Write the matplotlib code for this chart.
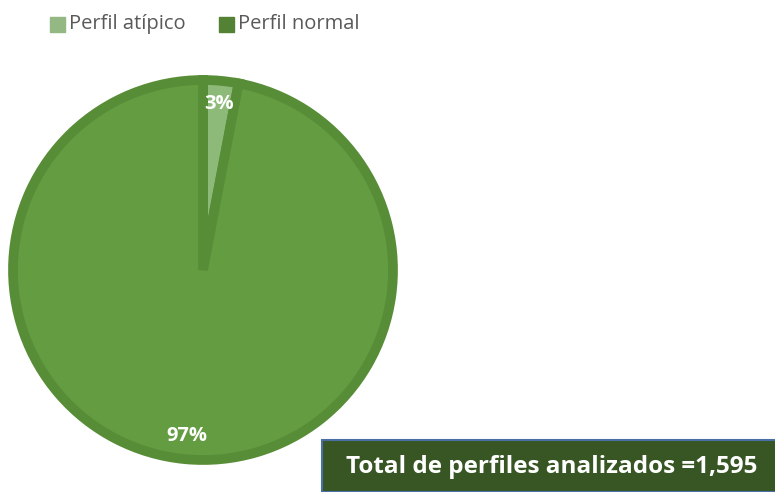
import matplotlib.pyplot as plt
from matplotlib.patches import Rectangle

# data
categories = ['Perfil atípico', 'Perfil normal']
shares = [3, 97]
total_label = 'Total de perfiles analizados =1,595'

fill_colors = ['#8dba78', '#639c41']
edge_color = '#588d37'
legend_colors = ['#93b884', '#548235']

fig = plt.figure(figsize=(7.75, 4.92), dpi=100)
plt.rcParams['font.family'] = ['Open Sans', 'DejaVu Sans']

# pie axes: circle of radius ~195 px centred at (203, 270)
ax = fig.add_axes([8/775, (492-465)/492, 390/775, 390/492])
wedges, texts, autotexts = ax.pie(
    shares, colors=fill_colors, startangle=90, counterclock=False,
    radius=190/195, autopct='%1.0f%%', pctdistance=0.88,
    wedgeprops=dict(edgecolor=edge_color, linewidth=7),
    textprops=dict(color='white', fontsize=14.5, fontweight='bold'))
ax.set_xlim(-1, 1)
ax.set_ylim(-1, 1)
ax.set_aspect('equal')
ax.axis('off')

# legend at top
for i, (cat, col) in enumerate(zip(categories, legend_colors)):
    x0 = [50, 219][i]
    fig.patches.append(Rectangle((x0/775, 1-32/492), 15/775, 15/492,
                                 transform=fig.transFigure, color=col))
    fig.text((x0+19)/775, 1-24/492, cat, fontsize=14.5, color='#595959',
             va='center', ha='left')

# total box bottom right
fig.patches.append(Rectangle((322/775, 0), 460/775, 52/492,
                             transform=fig.transFigure, facecolor='#375623',
                             edgecolor='#4a6fa5', linewidth=1.5))
fig.text(552/775, 1-467/492, total_label, fontsize=17.5, fontweight='bold',
         color='white', ha='center', va='center')

fig.savefig('out.png', dpi=100)
